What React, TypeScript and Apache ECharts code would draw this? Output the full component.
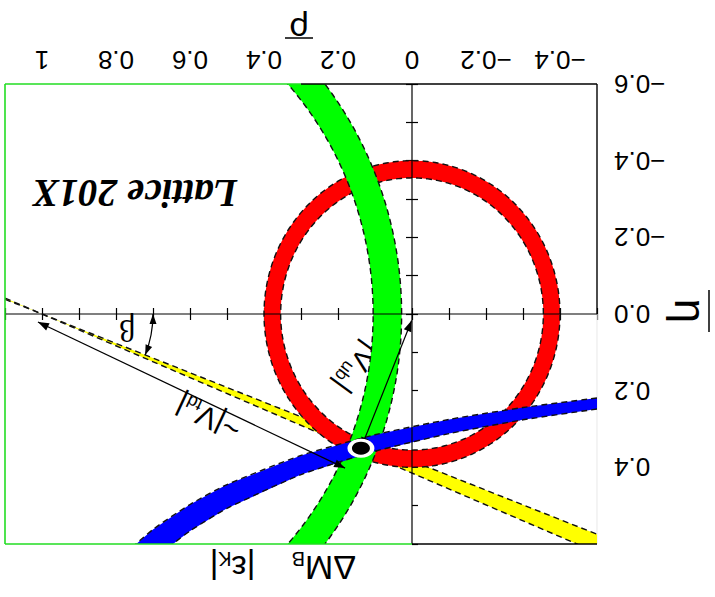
import { useEffect, useRef } from 'react';
import * as echarts from 'echarts';

// Axis ranges (ρ̄ horizontal, η̄ vertical; both drawn reversed)
const RHO_MIN = -0.5;
const RHO_MAX = 1.1;
const ETA_MIN = -0.6;
const ETA_MAX = 0.6;

// Ticks on the right-hand η̄ edge (only the negative half carries ticks)
const rightEdgeTicks = [-0.6, -0.5, -0.4, -0.3, -0.2, -0.1, 0];

// |Vub/Vcb| ring around the origin: [ρ̄, η̄] centre and inner/outer radius
const vubCenter = [0, 0];
const vubRadii = [0.355, 0.4];

// ΔM_B ring around (1, 0)
const dmCenter = [1, 0];
const dmRadii = [0.895, 0.972];

// |ε_K| band edges, [ρ̄, η̄]
const epsLowerEdge = [
  [-0.5, 0.219], [-0.3, 0.244], [-0.1, 0.275], [0.1, 0.315], [0.3, 0.369],
  [0.5, 0.445], [0.6, 0.497], [0.7, 0.562], [0.8, 0.646],
];
const epsUpperEdge = [
  [-0.5, 0.248], [-0.3, 0.276], [-0.1, 0.312], [0.1, 0.358], [0.3, 0.419],
  [0.5, 0.507], [0.6, 0.566], [0.7, 0.64],
];

// sin 2β wedge from (1, 0): range of tan β
const tanBeta = [0.383, 0.415];

// Best-fit apex of the triangle
const apex = [0.138, 0.35];

// Annotation arrows: [ρ̄1, η̄1, ρ̄2, η̄2, head at start, head at end]
const vtdArrow = [1.011, 0.021, 0.181, 0.402, 1, 1];
const vubArrow = [0.138, 0.35, 0.001, 0.017, 1, 1];

const FONT = 'Liberation Sans';

function arrowHead(tip: number[], from: number[], len = 11, half = 4) {
  const dx = tip[0] - from[0];
  const dy = tip[1] - from[1];
  const L = Math.hypot(dx, dy) || 1;
  const ux = dx / L;
  const uy = dy / L;
  const bx = tip[0] - ux * len;
  const by = tip[1] - uy * len;
  return {
    type: 'polygon',
    shape: { points: [tip, [bx - uy * half, by + ux * half], [bx + uy * half, by - ux * half]] },
    style: { fill: '#000', stroke: null },
  };
}

const dashStyle = { fill: null, stroke: '#111', lineWidth: 1.4, lineDash: [6, 4] };

function ringSeries(center: number[], radii: number[], color: string, z: number) {
  return {
    type: 'custom',
    z,
    clip: true,
    silent: true,
    data: [[center[0], center[1], radii[0], radii[1]]],
    renderItem: (_p: any, api: any) => {
      const cx = api.value(0);
      const cy = api.value(1);
      const r0 = api.value(2);
      const r1 = api.value(3);
      const N = 360;
      const outer: number[][] = [];
      const inner: number[][] = [];
      for (let i = 0; i <= N; i++) {
        const t = Math.PI + (i / N) * Math.PI * 2;
        outer.push(api.coord([cx + r1 * Math.cos(t), cy + r1 * Math.sin(t)]));
        inner.push(api.coord([cx + r0 * Math.cos(t), cy + r0 * Math.sin(t)]));
      }
      const fill = outer.concat(inner.slice().reverse());
      return {
        type: 'group',
        children: [
          { type: 'polygon', shape: { points: fill }, style: { fill: color, stroke: null } },
          { type: 'polyline', shape: { points: outer }, style: dashStyle },
          { type: 'polyline', shape: { points: inner }, style: dashStyle },
        ],
      };
    },
  };
}

function segmentSeries(segs: number[][], color: string, width: number, z: number) {
  return {
    type: 'custom',
    z,
    clip: false,
    silent: true,
    data: segs,
    renderItem: (_p: any, api: any) => {
      const a = api.coord([api.value(0), api.value(1)]);
      const b = api.coord([api.value(2), api.value(3)]);
      return {
        type: 'line',
        shape: { x1: a[0], y1: a[1], x2: b[0], y2: b[1] },
        style: { stroke: color, lineWidth: width },
      };
    },
  };
}

function subLabel(
  x: number, y: number, rotation: number, main: string, sub: string, tail: string,
  size: number, subSize: number, mainW: number, subW: number, subDy: number,
) {
  const total = mainW + subW + (tail ? size * 0.26 : 0);
  const x0 = -total / 2;
  const children: any[] = [
    { type: 'text', x: x0, y: 0, style: { text: main, fontSize: size, fontFamily: FONT, fill: '#000', align: 'left', verticalAlign: 'middle' } },
    { type: 'text', x: x0 + mainW, y: subDy, style: { text: sub, fontSize: subSize, fontFamily: FONT, fill: '#000', align: 'left', verticalAlign: 'middle' } },
  ];
  if (tail) {
    children.push({ type: 'text', x: x0 + mainW + subW, y: 0, style: { text: tail, fontSize: size, fontFamily: FONT, fill: '#000', align: 'left', verticalAlign: 'middle' } });
  }
  return { type: 'group', x, y, rotation, children, z: 100 };
}

export default function App() {
  const ref = useRef<HTMLDivElement>(null);

  useEffect(() => {
    if (!ref.current) return;
    const chart = echarts.init(ref.current, null, { renderer: 'svg' });

    const tickCommon = {
      show: true,
      inside: true,
      length: 6,
      lineStyle: { color: '#000', width: 1.2 },
    };

    const xLabel = (v: number) => {
      const t = Math.round(v * 10);
      if (t % 2 !== 0) return '';
      return String(t / 10).replace('-', '\u2212');
    };
    const yLabel = (v: number) => {
      const t = Math.round(v * 10);
      if (t % 2 !== 0 || t > 5) return '';
      return (t / 10).toFixed(1).replace('-', '\u2212');
    };

    const option: any = {
      animation: false,
      backgroundColor: '#fff',
      grid: { left: 5, right: 118, top: 84, bottom: 53, containLabel: false },
      xAxis: [
        {
          type: 'value', position: 'top', inverse: true,
          min: RHO_MIN, max: RHO_MAX, interval: 0.1,
          axisLine: { show: false }, splitLine: { show: false },
          axisTick: tickCommon,
          axisLabel: { formatter: xLabel, rotate: 180, fontSize: 26, fontFamily: FONT, color: '#000', margin: 11 },
        },
        {
          type: 'value', position: 'bottom', inverse: true,
          min: RHO_MIN, max: RHO_MAX, interval: 0.1,
          axisLine: { show: false }, splitLine: { show: false },
          axisTick: tickCommon, axisLabel: { show: false },
        },
      ],
      yAxis: [
        {
          type: 'value', position: 'right', inverse: true,
          min: ETA_MIN, max: ETA_MAX, interval: 0.1,
          axisLine: { show: false }, splitLine: { show: false },
          axisTick: { ...tickCommon, customValues: rightEdgeTicks },
          axisLabel: { formatter: yLabel, rotate: 180, fontSize: 26, fontFamily: FONT, color: '#000', margin: 17 },
        },
        {
          type: 'value', position: 'left', inverse: true,
          min: ETA_MIN, max: ETA_MAX, interval: 0.1,
          axisLine: { show: false }, splitLine: { show: false },
          axisTick: tickCommon, axisLabel: { show: false },
        },
      ],
      series: [
        // sin 2β wedge (two triangles meeting at (1, 0))
        {
          type: 'custom', z: 2, clip: true, silent: true,
          data: [[dmCenter[0], dmCenter[1], tanBeta[0], tanBeta[1]]],
          renderItem: (_p: any, api: any) => {
            const r0 = api.value(0);
            const e0 = api.value(1);
            const k1 = api.value(2);
            const k2 = api.value(3);
            const lo = RHO_MIN - 0.1;
            const hi = RHO_MAX;
            const a1 = api.coord([hi, e0 + k1 * (r0 - hi)]);
            const b1 = api.coord([lo, e0 + k1 * (r0 - lo)]);
            const a2 = api.coord([hi, e0 + k2 * (r0 - hi)]);
            const b2 = api.coord([lo, e0 + k2 * (r0 - lo)]);
            return {
              type: 'group',
              children: [
                { type: 'polygon', shape: { points: [a1, b1, b2, a2] }, style: { fill: '#ffff00', stroke: null } },
                { type: 'polyline', shape: { points: [a1, b1] }, style: dashStyle },
                { type: 'polyline', shape: { points: [a2, b2] }, style: dashStyle },
              ],
            };
          },
        },
        ringSeries(vubCenter, vubRadii, '#ff0000', 3),
        ringSeries(dmCenter, dmRadii, '#00ff00', 4),
        // |ε_K| band
        {
          type: 'custom', z: 5, clip: true, silent: true,
          data: [[apex[0], apex[1]]],
          renderItem: (_p: any, api: any) => {
            const up = epsUpperEdge.map((p) => api.coord(p));
            const lo = epsLowerEdge.map((p) => api.coord(p));
            return {
              type: 'group',
              children: [
                { type: 'polygon', shape: { points: up.concat(lo.slice().reverse()) }, style: { fill: '#0000ff', stroke: null } },
                { type: 'polyline', shape: { points: up, smooth: 0.2 }, style: dashStyle },
                { type: 'polyline', shape: { points: lo, smooth: 0.2 }, style: dashStyle },
              ],
            };
          },
        },
        // zero lines
        segmentSeries([[RHO_MIN, 0, RHO_MAX, 0], [0, ETA_MIN, 0, ETA_MAX]], '#000', 1.2, 6),
        // frame
        segmentSeries([[RHO_MAX, ETA_MIN, 0.3, ETA_MIN], [RHO_MAX, ETA_MIN, RHO_MAX, ETA_MAX], [RHO_MAX, ETA_MAX, 0, ETA_MAX]], '#22dd22', 1.6, 7),
        segmentSeries([[0.3, ETA_MIN, RHO_MIN, ETA_MIN], [RHO_MIN, ETA_MIN, RHO_MIN, 0], [0, ETA_MAX, RHO_MIN, ETA_MAX]], '#000', 1.4, 7),
        segmentSeries([[RHO_MIN, 0, RHO_MIN, ETA_MAX]], '#ececec', 1.2, 1),
        // side-length arrows
        {
          type: 'custom', z: 8, clip: false, silent: true,
          data: [vtdArrow, vubArrow],
          renderItem: (_p: any, api: any) => {
            const a = api.coord([api.value(0), api.value(1)]);
            const b = api.coord([api.value(2), api.value(3)]);
            const children: any[] = [
              { type: 'line', shape: { x1: a[0], y1: a[1], x2: b[0], y2: b[1] }, style: { stroke: '#000', lineWidth: 1.2 } },
            ];
            if (api.value(4)) children.push(arrowHead(a, b));
            if (api.value(5)) children.push(arrowHead(b, a));
            return { type: 'group', children };
          },
        },
        // β angle arc at (1, 0)
        {
          type: 'custom', z: 8, clip: false, silent: true,
          data: [[dmCenter[0], dmCenter[1], tanBeta[0]]],
          renderItem: (_p: any, api: any) => {
            const c = api.coord([api.value(0), api.value(1)]);
            const onLine = api.coord([0, api.value(1) + api.value(2) * api.value(0)]);
            const th = Math.atan2(onLine[1] - c[1], onLine[0] - c[0]);
            const r = 111;
            const p0 = [c[0] + r, c[1]];
            const p1 = [c[0] + r * Math.cos(th), c[1] + r * Math.sin(th)];
            return {
              type: 'group',
              children: [
                { type: 'arc', shape: { cx: c[0], cy: c[1], r, startAngle: 0, endAngle: th, clockwise: true }, style: { stroke: '#000', lineWidth: 1.2, fill: null } },
                arrowHead(p0, [p0[0], p0[1] + 10], 10, 3.5),
                arrowHead(p1, [p1[0] + Math.sin(th) * 10, p1[1] - Math.cos(th) * 10], 10, 3.5),
              ],
            };
          },
        },
        // apex marker
        {
          type: 'scatter', z: 10, silent: true,
          symbol: 'circle', symbolSize: [27, 19],
          itemStyle: { color: '#fff', opacity: 1, borderWidth: 0 },
          data: [apex],
        },
        {
          type: 'scatter', z: 11, silent: true,
          symbol: 'circle', symbolSize: [18, 13],
          itemStyle: { color: '#000', opacity: 1, borderWidth: 0 },
          data: [apex],
        },
      ],
      graphic: [
        {
          type: 'text', x: 135, y: 193, rotation: Math.PI, z: 100,
          style: { text: 'Lattice 201X', fontSize: 39, fontFamily: 'Liberation Serif', fontWeight: 'bold', fontStyle: 'italic', fill: '#000', align: 'center', verticalAlign: 'middle' },
        },
        {
          type: 'text', x: 127, y: 331, rotation: Math.PI, z: 100,
          style: { text: 'β', fontSize: 32, fontFamily: 'Liberation Serif', fill: '#000', align: 'center', verticalAlign: 'middle' },
        },
        // axis names
        {
          type: 'group', x: 299, y: 24, rotation: Math.PI, z: 100,
          children: [
            { type: 'text', x: 0, y: -6, style: { text: 'ρ', fontSize: 34, lineHeight: 30, fontFamily: FONT, fill: '#000', align: 'center', verticalAlign: 'middle' } },
            { type: 'line', shape: { x1: -14, y1: -14, x2: 14, y2: -14 }, style: { stroke: '#000', lineWidth: 1.5 } },
          ],
        },
        {
          type: 'group', x: 684, y: 311, rotation: -Math.PI / 2, z: 100,
          children: [
            { type: 'text', x: 0, y: -6, style: { text: 'η', fontSize: 44, lineHeight: 28, fontFamily: FONT, fill: '#000', align: 'center', verticalAlign: 'middle' } },
            { type: 'line', shape: { x1: -21, y1: -25, x2: 21, y2: -25 }, style: { stroke: '#000', lineWidth: 1.5 } },
          ],
        },
        subLabel(324, 568, Math.PI, 'ΔM', 'B', '', 34, 20, 51, 13, 9),
        subLabel(232.5, 568, Math.PI, '|ε', 'K', '|', 34, 20, 24, 13, 9),
        subLabel(362, 361, -2.2, '~|V', 'ub', '|', 29, 18, 44, 20, 8),
        subLabel(208, 418, 2.705, '~|V', 'td', '|', 30, 18, 45, 15, 8),
      ],
    };

    chart.setOption(option);
    return () => chart.dispose();
  }, []);

  return (
    <div
      ref={ref}
      style={{ position: 'absolute', left: 0, top: 0, width: 715, height: 597, background: '#fff' }}
    />
  );
}
